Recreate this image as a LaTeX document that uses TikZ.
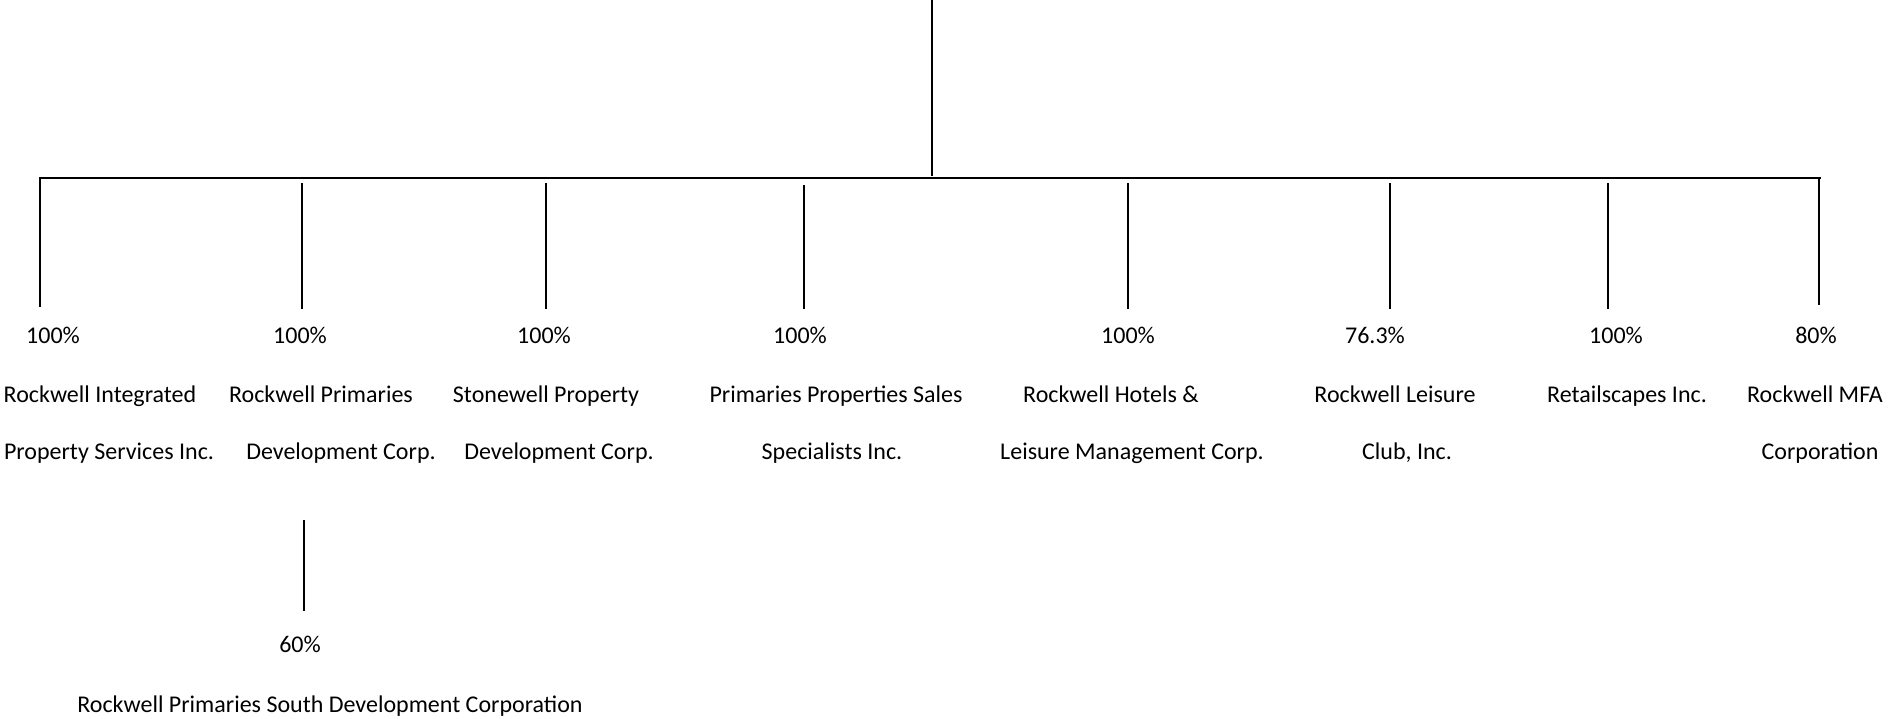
\documentclass[tikz,border=0pt]{standalone}
\usepackage{fontspec}
\setmainfont{Carlito}
\tikzset{
  lbl/.style={anchor=base, inner sep=0pt, font=\fontsize{24}{29}\selectfont},
  vline/.style={line width=2.2pt},
  hline/.style={line width=2.6pt}
}
\begin{document}
\begin{tikzpicture}[x=1pt,y=1pt]
\useasboundingbox (0,0) rectangle (1890,-718);
% trunk and bar
\coordinate (t0) at (932,0);
\coordinate (t1) at (932,-176);
\coordinate (hL) at (39,-178);
\coordinate (hR) at (1821,-178);
\draw[vline] (t0) -- (t1);
\draw[hline] (hL) -- (hR);
% drops
\coordinate (d1a) at (40,-178);   \coordinate (d1b) at (40,-307);
\coordinate (d2a) at (302,-183);  \coordinate (d2b) at (302,-309);
\coordinate (d3a) at (546,-183);  \coordinate (d3b) at (546,-309);
\coordinate (d4a) at (804,-185);  \coordinate (d4b) at (804,-309);
\coordinate (d5a) at (1128,-183); \coordinate (d5b) at (1128,-309);
\coordinate (d6a) at (1390,-183); \coordinate (d6b) at (1390,-309);
\coordinate (d7a) at (1608,-183); \coordinate (d7b) at (1608,-309);
\coordinate (d8a) at (1819,-178); \coordinate (d8b) at (1819,-305);
\foreach \i in {1,...,8} { \draw[vline] (d\i a) -- (d\i b); }
% percentages
\node[lbl] (p1) at (53,-343) {100\%};
\node[lbl] (p2) at (300,-343) {100\%};
\node[lbl] (p3) at (544,-343) {100\%};
\node[lbl] (p4) at (800,-343) {100\%};
\node[lbl] (p5) at (1128,-343) {100\%};
\node[lbl] (p6) at (1375,-343) {76.3\%};
\node[lbl] (p7) at (1616,-343) {100\%};
\node[lbl] (p8) at (1816,-343) {80\%};
% names, first line
\node[lbl] (n1a) at (100,-402) {Rockwell Integrated};
\node[lbl] (n2a) at (321,-402) {Rockwell Primaries};
\node[lbl] (n3a) at (546,-402) {Stonewell Property};
\node[lbl] (n4a) at (836,-402) {Primaries Properties Sales};
\node[lbl] (n5a) at (1111,-402) {Rockwell Hotels \&};
\node[lbl] (n6a) at (1395,-402) {Rockwell Leisure};
\node[lbl] (n7a) at (1627,-402) {Retailscapes Inc.};
\node[lbl] (n8a) at (1815,-402) {Rockwell MFA};
% names, second line
\node[lbl] (n1b) at (109,-459) {Property Services Inc.};
\node[lbl] (n2b) at (341,-459) {Development Corp.};
\node[lbl] (n3b) at (559,-459) {Development Corp.};
\node[lbl] (n4b) at (832,-459) {Specialists Inc.};
\node[lbl] (n5b) at (1132,-459) {Leisure Management Corp.};
\node[lbl] (n6b) at (1407,-459) {Club, Inc.};
\node[lbl] (n8b) at (1820,-459) {Corporation};
% sub-subsidiary
\coordinate (s0) at (304,-520);
\coordinate (s1) at (304,-611);
\draw[vline] (s0) -- (s1);
\node[lbl] (p9) at (300,-652) {60\%};
\node[lbl] (n9) at (330,-712) {Rockwell Primaries South Development Corporation};
\end{tikzpicture}
\end{document}
